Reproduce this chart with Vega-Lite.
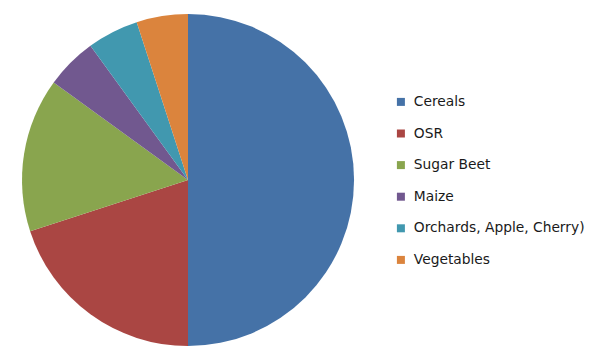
{
  "$schema": "https://vega.github.io/schema/vega-lite/v6.json",
  "width": 332,
  "height": 332,
  "padding": {"left": 22, "top": 14, "right": 251, "bottom": 12},
  "autosize": {"type": "none"},
  "background": "white",
  "config": {"view": {"stroke": null}},
  "data": {
    "values": [
      {"crop": "Cereals", "share": 50, "idx": 1},
      {"crop": "OSR", "share": 20, "idx": 2},
      {"crop": "Sugar Beet", "share": 15, "idx": 3},
      {"crop": "Maize", "share": 5, "idx": 4},
      {"crop": "Orchards, Apple, Cherry)", "share": 5, "idx": 5},
      {"crop": "Vegetables", "share": 5, "idx": 6}
    ]
  },
  "mark": {"type": "arc", "radius": 166},
  "encoding": {
    "theta": {"field": "share", "type": "quantitative", "stack": true},
    "order": {"field": "idx", "type": "quantitative"},
    "color": {
      "field": "crop",
      "type": "nominal",
      "sort": ["Cereals", "OSR", "Sugar Beet", "Maize", "Orchards, Apple, Cherry)", "Vegetables"],
      "scale": {
        "domain": ["Cereals", "OSR", "Sugar Beet", "Maize", "Orchards, Apple, Cherry)", "Vegetables"],
        "range": ["#4572A7", "#AA4643", "#89A54E", "#71588F", "#4198AF", "#DB843D"]
      },
      "legend": {
        "title": null,
        "orient": "none",
        "legendX": 372,
        "legendY": 81,
        "symbolType": "square",
        "symbolSize": 64,
        "symbolStrokeWidth": 0,
        "labelFont": "DejaVu Sans",
        "labelFontSize": 13.8,
        "labelColor": "#1a1a1a",
        "labelOffset": 6,
        "rowPadding": 16.6,
        "labelLimit": 300
      }
    }
  }
}
